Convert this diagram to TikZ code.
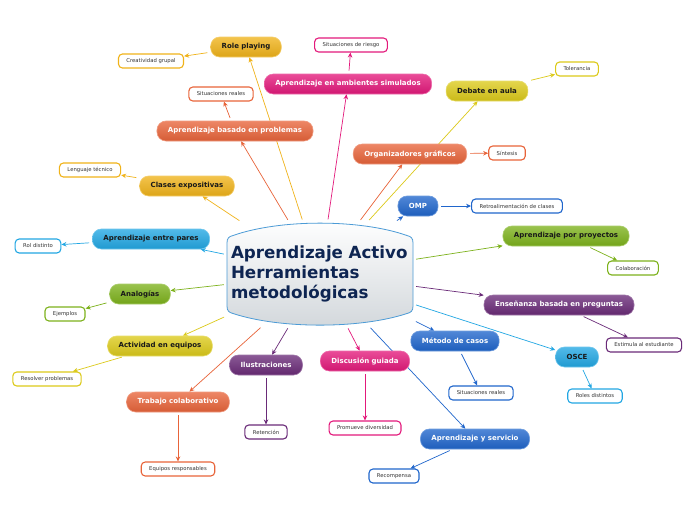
\documentclass[tikz,border=0pt]{standalone}
\usepackage{fontspec}
\setmainfont{DejaVu Sans}
\usepackage{tikz}
\usetikzlibrary{positioning,arrows.meta,backgrounds}
\definecolor{ocre}{HTML}{F0B31A}
\definecolor{rosa}{HTML}{E3197B}
\definecolor{naranja}{HTML}{E8643A}
\definecolor{celeste}{HTML}{22A7E3}
\definecolor{verde}{HTML}{7DB21C}
\definecolor{amarillo}{HTML}{DCCA1A}
\definecolor{morado}{HTML}{6A2B78}
\definecolor{azul}{HTML}{2066CC}
\definecolor{cBorde}{HTML}{4C9BD6}
\definecolor{cTexto}{HTML}{0E2552}
\definecolor{cGris}{HTML}{D2D7DB}

\begin{document}
\begin{tikzpicture}[x=1pt, y=-1pt,
  rama/.style={rounded corners=9pt, minimum height=20pt, inner xsep=11pt, inner ysep=0pt, font=\bfseries\fontsize{7}{8}\selectfont, text=black!90, top color=#1!78!white, bottom color=#1!92!black, draw=#1!65!white, line width=0.6pt},
  hoja/.style={rounded corners=4pt, minimum height=14pt, inner xsep=8pt, inner ysep=0pt, font=\fontsize{5.3}{6}\selectfont, text=black!80, fill=white, draw=#1, line width=1.1pt},
  enlace/.style={draw=#1, line width=0.7pt, shorten <=3pt, -{Stealth[length=5pt,width=4.5pt]}}]
\useasboundingbox (0,0) rectangle (696,520);
% central node
\path[top color=white, bottom color=cGris, draw=cBorde, line width=0.8pt]
  (227,243) .. controls (227,238) and (229,236.5) .. (233,235.5)
  .. controls (280,219) and (360,219) .. (407,235.5)
  .. controls (411,236.5) and (413,238) .. (413,243) -- (413,306)
  .. controls (413,311) and (411,312.5) .. (407,313.5)
  .. controls (360,329) and (280,329) .. (233,313.5)
  .. controls (229,312.5) and (227,311) .. (227,306) -- cycle;
\node[minimum width=186pt, minimum height=103pt, inner sep=0pt, text width=178pt, align=left, text=cTexto, font=\bfseries\fontsize{16.7}{20}\selectfont] (c) at (320,274) {Aprendizaje Activo\\Herramientas\\metodológicas};
% branches
\node[rama=ocre] (rp) at (246,47) {Role playing};
\node[rama=rosa, text=white] (sim) at (348,84) {Aprendizaje en ambientes simulados};
\node[rama=naranja, text=white] (abp) at (235,131) {Aprendizaje basado en problemas};
\node[rama=ocre] (ce) at (187,186) {Clases expositivas};
\node[rama=celeste] (aep) at (151,239) {Aprendizaje entre pares};
\node[rama=verde] (ana) at (140,294) {Analogías};
\node[rama=amarillo] (aeq) at (160,346) {Actividad en equipos};
\node[rama=naranja, text=white] (tc) at (178,402) {Trabajo colaborativo};
\node[rama=morado, text=white] (ilu) at (266,365) {Ilustraciones};
\node[rama=rosa, text=white] (dg) at (365,361) {Discusión guiada};
\node[rama=azul, text=white] (mc) at (455,341) {Método de casos};
\node[rama=azul, text=white] (ays) at (475,439) {Aprendizaje y servicio};
\node[rama=celeste] (osce) at (577,357) {OSCE};
\node[rama=morado, text=white] (ebp) at (559,305) {Enseñanza basada en preguntas};
\node[rama=verde] (app) at (566,236) {Aprendizaje por proyectos};
\node[rama=azul, text=white] (omp) at (418,206) {OMP};
\node[rama=naranja, text=white] (og) at (410,154) {Organizadores gráficos};
\node[rama=amarillo] (dea) at (487,91) {Debate en aula};
% leaves
\node[hoja=ocre] (cg) at (151,61) {Creatividad grupal};
\node[hoja=rosa] (sriesgo) at (351,45) {Situaciones de riesgo};
\node[hoja=naranja] (sreal1) at (221,94) {Situaciones reales};
\node[hoja=ocre] (lt) at (90,170) {Lenguaje técnico};
\node[hoja=celeste] (rd) at (38,246) {Rol distinto};
\node[hoja=verde] (ej) at (65,314) {Ejemplos};
\node[hoja=amarillo] (rprob) at (47,379) {Resolver problemas};
\node[hoja=naranja] (er) at (178,469) {Equipos responsables};
\node[hoja=morado] (ret) at (266,432) {Retención};
\node[hoja=rosa] (pd) at (365,428) {Promueve diversidad};
\node[hoja=azul] (sreal2) at (481,393) {Situaciones reales};
\node[hoja=azul] (rec) at (394,476) {Recompensa};
\node[hoja=celeste] (rdis) at (595,396) {Roles distintos};
\node[hoja=morado] (ee) at (644,345) {Estimula al estudiante};
\node[hoja=verde] (col) at (633,268) {Colaboración};
\node[hoja=azul] (retro) at (517,206) {Retroalimentación de clases};
\node[hoja=naranja] (sin) at (507,153) {Síntesis};
\node[hoja=amarillo] (tol) at (577,69) {Tolerancia};
% connectors
\begin{scope}[on background layer]
\fill[white] (0,0) rectangle (696,520);
\draw[enlace=ocre] (c) -- (rp);
\draw[enlace=rosa] (c) -- (sim);
\draw[enlace=naranja] (c) -- (abp);
\draw[enlace=ocre] (c) -- (ce);
\draw[enlace=celeste] (c) -- (aep);
\draw[enlace=verde] (c) -- (ana);
\draw[enlace=amarillo] (c) -- (aeq);
\draw[enlace=naranja] (c) -- (tc);
\draw[enlace=morado] (c) -- (ilu);
\draw[enlace=rosa] (c) -- (dg);
\draw[enlace=azul] (c) -- (mc);
\draw[enlace=azul] (c) -- (ays);
\draw[enlace=celeste] (c) -- (osce);
\draw[enlace=morado] (c) -- (ebp);
\draw[enlace=verde] (c) -- (app);
\draw[enlace=azul] (c) -- (omp);
\draw[enlace=naranja] (c) -- (og);
\draw[enlace=amarillo] (c) -- (dea);
\draw[enlace=ocre] (rp) -- (cg);
\draw[enlace=rosa] (sim) -- (sriesgo);
\draw[enlace=naranja] (abp) -- (sreal1);
\draw[enlace=ocre] (ce) -- (lt);
\draw[enlace=celeste] (aep) -- (rd);
\draw[enlace=verde] (ana) -- (ej);
\draw[enlace=amarillo] (aeq) -- (rprob);
\draw[enlace=naranja] (tc) -- (er);
\draw[enlace=morado] (ilu) -- (ret);
\draw[enlace=rosa] (dg) -- (pd);
\draw[enlace=azul] (mc) -- (sreal2);
\draw[enlace=azul] (ays) -- (rec);
\draw[enlace=celeste] (osce) -- (rdis);
\draw[enlace=morado] (ebp) -- (ee);
\draw[enlace=verde] (app) -- (col);
\draw[enlace=azul] (omp) -- (retro);
\draw[enlace=naranja] (og) -- (sin);
\draw[enlace=amarillo] (dea) -- (tol);
\end{scope}
\end{tikzpicture}
\end{document}
